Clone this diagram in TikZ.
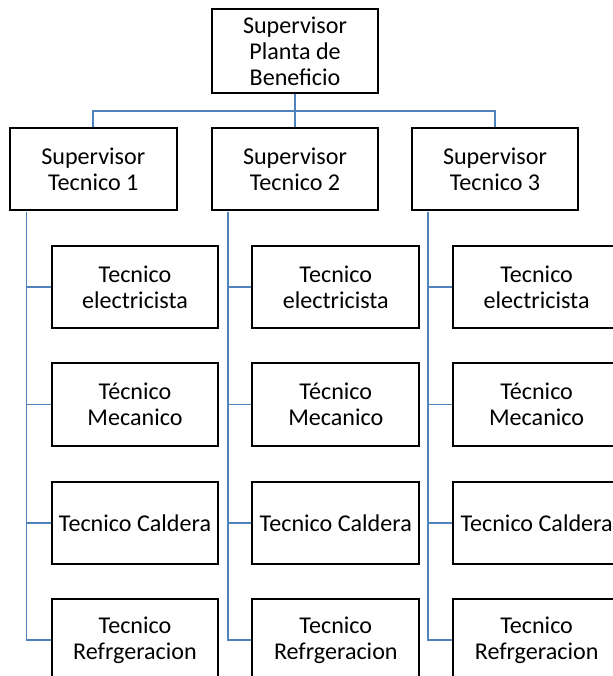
\documentclass[tikz,border=0pt]{standalone}
\usepackage{fontspec}
\setmainfont{Carlito}
\definecolor{connblue}{RGB}{79,129,189}
\begin{document}
\begin{tikzpicture}[x=1pt,y=-1pt,
  box/.style={draw=black,line width=2pt,fill=white,minimum width=166.7pt,minimum height=82.5pt,
    inner sep=2pt,align=center,font=\fontsize{24.1}{26}\selectfont},
  topbox/.style={box,minimum height=84pt},
  conn/.style={draw=connblue,line width=1.8pt}]
\useasboundingbox (0,0) rectangle (612,676);
\node[topbox] (top) at (295,51.3) {Supervisor\\Planta de\\Beneficio};
\node[box] (s1) at (93.3,168.8) {Supervisor\\Tecnico 1};
\node[box] (s2) at (295,168.8) {Supervisor\\Tecnico 2};
\node[box] (s3) at (495,168.8) {Supervisor\\Tecnico 3};
\foreach \c/\x in {1/135,2/335.8,3/536.6}{
  \node[box] (c\c1) at (\x,287) {Tecnico\\electricista};
  \node[box] (c\c2) at (\x,404.5) {Técnico\\Mecanico};
  \node[box] (c\c3) at (\x,522.8) {Tecnico Caldera};
  \node[box] (c\c4) at (\x,640) {Tecnico\\Refrgeracion};
}
\coordinate (bus) at (295,111);
\draw[conn] (top.south) -- (s2.north);
\draw[conn] (bus) -| (s1.north);
\draw[conn] (bus) -| (s3.north);
\foreach \c in {1,2,3}{
  \coordinate (v\c) at ([xshift=17.5pt,yshift=-1pt]s\c.south west);
  \foreach \r in {1,2,3,4}{
    \draw[conn] (v\c) |- (c\c\r.west);
  }
}
\end{tikzpicture}
\end{document}
